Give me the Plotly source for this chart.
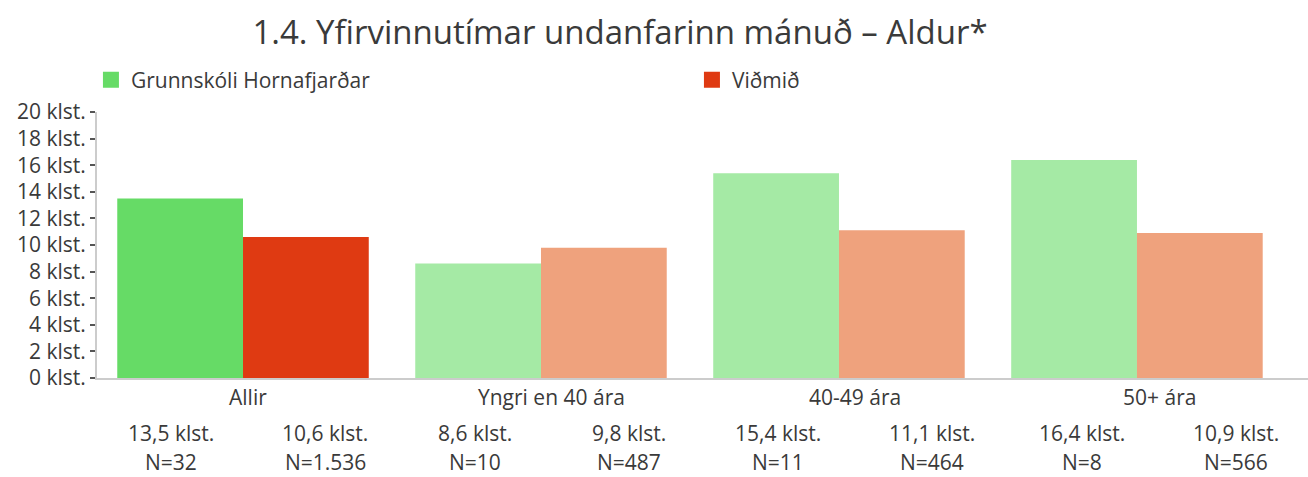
import plotly.graph_objects as go

categories = ["Allir", "Yngri en 40 ára", "40-49 ára", "50+ ára"]
school_values = [13.5, 8.6, 15.4, 16.4]
bench_values = [10.6, 9.8, 11.1, 10.9]
school_n = [32, 10, 11, 8]
bench_n = [1536, 487, 464, 566]
series_names = ["Grunnskóli Hornafjarðar", "Viðmið"]
y_ticks = [0, 2, 4, 6, 8, 10, 12, 14, 16, 18, 20]

school_colors = ["#66DB66", "#A5EAA5", "#A5EAA5", "#A5EAA5"]
bench_colors = ["#DF3A12", "#EFA27D", "#EFA27D", "#EFA27D"]

FONT = "Open Sans"
TXT = "#3a3a3a"
FS = 21


def fmt_hours(v):
    return f"{v:.1f}".replace(".", ",") + " klst."


def fmt_n(n):
    return "N=" + f"{n:,}".replace(",", ".")


fig = go.Figure()
fig.add_trace(go.Bar(x=categories, y=school_values, name=series_names[0], showlegend=False,
                     marker=dict(color=school_colors, line=dict(width=0))))
fig.add_trace(go.Bar(x=categories, y=bench_values, name=series_names[1], showlegend=False,
                     marker=dict(color=bench_colors, line=dict(width=0))))
# legend entries
fig.add_trace(go.Scatter(x=[None], y=[None], mode="markers", name=series_names[0],
                         marker=dict(symbol="square", size=16, color=school_colors[0])))
fig.add_trace(go.Scatter(x=[None], y=[None], mode="markers", name=series_names[1],
                         marker=dict(symbol="square", size=16, color=bench_colors[0])))

annotations = []
for i, cat in enumerate(categories):
    shift = 5 + 5.7 * i
    annotations.append(dict(x=cat, xref="x", y=0, yref="paper", text=cat,
                            showarrow=False, xshift=shift, yshift=-19,
                            yanchor="middle", font=dict(size=FS, color=TXT, family=FONT)))
    for sign, v, n in ((-1, school_values[i], school_n[i]), (1, bench_values[i], bench_n[i])):
        annotations.append(dict(x=cat, xref="x", y=0, yref="paper", text=fmt_hours(v),
                                showarrow=False, xshift=shift + sign * 77, yshift=-55,
                                yanchor="middle", font=dict(size=FS, color=TXT, family=FONT)))
        annotations.append(dict(x=cat, xref="x", y=0, yref="paper", text=fmt_n(n),
                                showarrow=False, xshift=shift + sign * 77, yshift=-84,
                                yanchor="middle", font=dict(size=FS, color=TXT, family=FONT)))

fig.update_layout(
    width=1308, height=477,
    margin=dict(l=97, r=0, t=112, b=99),
    paper_bgcolor="white", plot_bgcolor="white",
    barmode="group", bargap=0.156, bargroupgap=0,
    font=dict(family=FONT, color=TXT, size=FS),
    title=dict(text="1.4. Yfirvinnutímar undanfarinn mánuð – Aldur*",
               x=620 / 1308, xanchor="center", y=1 - 32 / 477, yanchor="middle",
               font=dict(size=33, color=TXT, family=FONT)),
    legend=dict(orientation="h", x=-0.005, xanchor="left", y=1.12, yanchor="middle",
                font=dict(size=FS, color=TXT, family=FONT),
                entrywidth=556, entrywidthmode="pixels", itemwidth=30,
                bgcolor="rgba(0,0,0,0)"),
    xaxis=dict(range=[-0.49, 3.574], showticklabels=False, showgrid=False,
               showline=True, linecolor="#cccccc", linewidth=2, ticks="", zeroline=False),
    yaxis=dict(range=[0, 20], tickmode="array", tickvals=y_ticks,
               ticktext=[f"{t} klst." for t in y_ticks], showgrid=False,
               showline=True, linecolor="#cccccc", linewidth=2, ticks="outside",
               ticklen=5, tickcolor="#555555", tickwidth=2, zeroline=False,
               tickfont=dict(size=FS, color=TXT, family=FONT)),
    annotations=annotations,
    showlegend=True,
)

fig.write_html("out.html", config={"displayModeBar": False},
               post_script="document.body.style.margin='0';")
